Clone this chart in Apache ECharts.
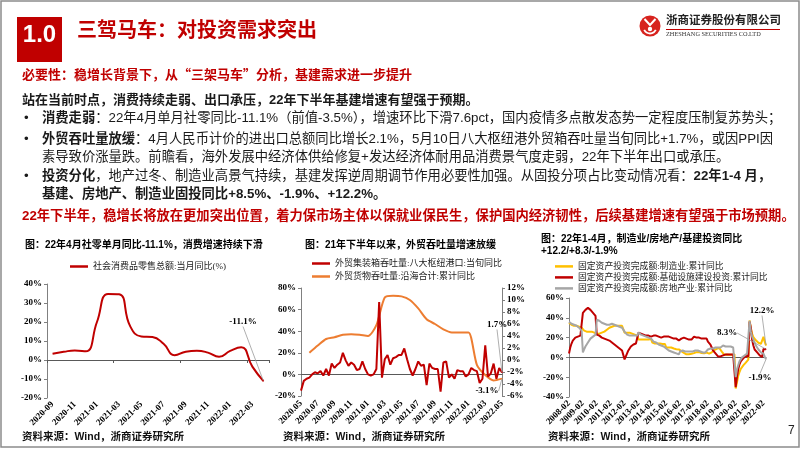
<!DOCTYPE html>
<html><head><meta charset="utf-8">
<script src="https://cdn.jsdelivr.net/npm/echarts@6/dist/echarts.min.js"></script>
<style>html,body{margin:0;padding:0;background:#fff}#c{width:802px;height:451px}</style>
</head><body><div id="c"></div>
<script>
// ---------- Chart 1: retail sales ----------
const retailMonths = ['2020-09','2020-10','2020-11','2020-12','2021-01','2021-02','2021-03','2021-04','2021-05','2021-06',
  '2021-07','2021-08','2021-09','2021-10','2021-11','2021-12','2022-01','2022-02','2022-03','2022-04'];
const retailYoY = [3.3, 4.3, 5.0, 4.6, 20, 34.8, 34.6, 17.7, 12.4, 12.1, 8.5, 2.5, 4.4, 4.9, 3.9, 1.7, 4.8, 6.7, -3.5, -11.1];
const retailTicks = {min: -20, max: 40, step: 10};

// ---------- Chart 2: port throughput ----------
const portMonths = ['2020.05','2020.06','2020.07','2020.08','2020.09','2020.10','2020.11','2020.12',
  '2021.01','2021.02','2021.03','2021.04','2021.05','2021.06','2021.07','2021.08','2021.09','2021.10','2021.11','2021.12',
  '2022.01','2022.02','2022.03','2022.04','2022.05'];
const portDays = ['10','20','30'];
const containerYoY = [-15,-6,-4,-3,0,2,1,3,-1,5, -1,10,6,9,11,20,13,8,11,9, 4,5,12,5,0,-1,0,5,67,-3,
  14,18,9,15,16,18,18,24,14,5, -1,5,12,8,9,-10,10,6,5,5, -16,11,12,-3,0,-4,4,3,3,-2,
  0,6,4,3,-8,-4,27,-2,1,10, -4,6,1.7];
const cargoMonths = ['2020.06','2020.07','2020.08','2020.09','2020.10','2020.11','2020.12',
  '2021.01','2021.02','2021.03','2021.04','2021.05','2021.06','2021.07','2021.08','2021.09','2021.10','2021.11','2021.12',
  '2022.01','2022.02','2022.03','2022.04','2022.05'];
const cargoYoY = [1.2, 2.4, 3.5, 3.8, 4.2, 4.3, 4.2, 4.0, 5.8, 10.4, 10.7, 10.6, 10.0, 8.6, 6.8, 6.0, 5.1, 4.6, 4.6, 4.6, -0.8, -2.5, -3.4, -3.1];
const portLeftTicks = {min: -20, max: 80, step: 20};
const portRightTicks = {min: -6, max: 12, step: 2};

// ---------- Chart 3: fixed asset investment ----------
const faiYears = [2008,2009,2010,2011,2012,2013,2014,2015,2016,2017,2018,2019,2020,2021];
const faiMonthsPerYear = ['02','03','04','05','06','07','08','09','10','11','12'];
const faiLastYearMonths = ['2022-02','2022-03','2022-04'];
const mfgYoY = [
  35,33,33,33,32,33,32,32,31,31,30,
  28,27,26,26,27,26,26,26,26,25,25,
  24,24,24,25,25,26,26,27,28,29,30,
  31,31,32,32,32,32,32,32,32,32,31,
  25,26,25,25,25,24,24,23,23,22,22,
  18,18,18,18,18,18,18,18,18,18,18.5,
  15,15,14,14,14,14,14,14,13.5,13.5,13.5,
  10,10,10,10,10,9,9,8.5,8.3,8.3,8.1,
  7.5,6.4,6,4.6,3.3,3.1,2.8,3.1,3.1,3.6,4.2,
  4.3,5.8,5.3,5.1,5.5,4.8,4.5,4.2,4.1,4.1,4.8,
  4.3,3.8,4.8,5.2,6.8,7.3,7.5,8.7,9.1,9.5,9.5,
  5.9,4.6,2.5,2.7,3.0,3.3,2.6,2.5,2.6,2.5,3.1,
  -31.5,-25.2,-18.8,-14.8,-11.7,-10.2,-8.1,-6.5,-5.3,-3.5,-2.2,
  37.3,29.8,23.8,20.4,19.2,17.3,15.7,14.8,14.2,13.7,13.5,
  20.9,15.6,12.2];
const infraYoY = [
  4,10,14,17,19,20,20,21,21,22,22,
  45,47,48,49,50,49,48,46,45,43,42,
  23,22,22,21,20,20,19,19,18,17,17,
  16,15,14,13,12,11,10,9,8,7,6,
  -2,1,4,7,9,11,12,13,13,14,14,
  25,24,24,24,23,23,22,21,22,22,21,
  23,22,22,22,21,21,20,20,20,21,21,
  21,22,21,21,20,20,19,19,19,18,17,
  18,19,19,20,20,19,18,18,19,18,17,
  21,19,20,20,20,20,19,19,19,19,19,
  16,14,13,10,7,5,4,2,1,1,1,
  2,2,3,3,3,3,3,3,3,3,3,
  -30,-20,-12,-7,-4,-2,-1,0.5,1.5,2,1,
  36,30,18,12,8,7,5,3,2,1,0.4,
  8.6,10,8.3];
const estateYoY = [
  36,35,34,34,33,33,32,31,30,29,27,
  5,8,11,13,15,17,19,20,21,22,23,
  38,37,37,36,35,35,34,34,33,33,33,
  34,34,33,33,33,32,32,31,31,30,29,
  26,24,23,22,22,22,22,22,22,22,22,
  25,24,23,22,22,21,21,20,20,20,19,
  17,16,15,15,14,13,13,12,12,11,11,
  9,8,7,6,6,5,5,4,4,3,3,
  6,6,7,7,6,6,6,6,6,6,6,
  7,7,7,7,7,6,6,5,5,5,4,
  8,9,9,9,9,10,10,10,10,10,10,
  11,12,12,11,11,11,11,11,10,10,10,
  -20,-12,-8,-4,-2,0,1,2,3,4,5,
  37,26,21,18,15,12,10,8,6,5,4,
  3.7,0.7,-1.9];
const faiTicks = {min: -40, max: 60, step: 20};

// ---------- build categories ----------
const portCats = [];
portMonths.forEach((m, i) => {
  const days = i === portMonths.length - 1 ? ['10'] : portDays;
  days.forEach(d => portCats.push(m + '.' + d));
});
const cargoSeries = portCats.map(() => null);
cargoMonths.forEach((m, i) => { const k = portCats.indexOf(m + '.10'); if (k >= 0) cargoSeries[k] = cargoYoY[i]; });
const faiCats = [];
faiYears.forEach(y => faiMonthsPerYear.forEach(m => faiCats.push(y + '-' + m)));
faiLastYearMonths.forEach(m => faiCats.push(m));

// ---------- styles ----------
const SANS = "'Liberation Sans','Noto Sans CJK SC',sans-serif";
const CJK = "'Noto Sans CJK SC',sans-serif";
const SERIF = "'Liberation Serif','Noto Sans CJK SC',serif";
const LEG = "'Liberation Serif','Noto Sans CJK SC',serif";
const RED = '#C00000', ORANGE = '#ED7D31', YELLOW = '#FFC000', GRAY = '#A6A6A6';
const axLbl = {fontFamily: SERIF, fontWeight: 'bold', fontSize: 9, color: '#000'};
const axLine = {show: true, lineStyle: {color: '#808080', width: 1}};
const zeroLine = {color: '#595959', width: 1};

function lastLabel(arr, text) {
  return arr.map((v, i) => i === arr.length - 1
    ? {value: v, symbol: 'circle', symbolSize: 1, label: {show: true, formatter: text}}
    : v);
}
const dataLabel = {show: false, fontFamily: SERIF, fontWeight: 'bold', fontSize: 9, color: '#000'};
const guide = {show: true, length2: 0, lineStyle: {color: '#9a9a9a', width: 0.8}};

function T(x, y, text, o) {
  return {type: 'text', x: x, y: y, silent: true,
    style: Object.assign({text: text, fontFamily: SANS, fontSize: 13.3, fill: '#1a1a1a', verticalAlign: 'middle', align: 'left'}, o || {})};
}
const richB = {b: {fontFamily: SANS, fontSize: 13.3, fontWeight: 'bold', fill: '#1a1a1a'}};

const graphics = [
  {type: 'rect', shape: {x: 1, y: 1, width: 798, height: 446}, style: {fill: null, stroke: '#8c8c8c', lineWidth: 1.5}, silent: true},
  {type: 'rect', shape: {x: 17, y: 17, width: 45, height: 45}, style: {fill: RED}, silent: true},
  T(39.5, 35, '1.0', {fill: '#fff', fontSize: 24, fontWeight: 'bold', align: 'center'}),
  T(77, 31, '三驾马车：对投资需求突出', {fill: RED, fontSize: 20, fontWeight: 'bold'}),
  // logo
  {type: 'circle', shape: {cx: 650, cy: 26, r: 10.5}, style: {fill: '#D7231E'}, silent: true},
  {type: 'polyline', shape: {points: [[644.5, 19], [650, 25], [655.5, 19]]}, style: {stroke: '#fff', lineWidth: 2, fill: null}, silent: true},
  {type: 'arc', shape: {cx: 650, cy: 27, r: 6.5, startAngle: 0.15 * Math.PI, endAngle: 0.85 * Math.PI}, style: {stroke: '#fff', lineWidth: 1.8, fill: null}, silent: true},
  {type: 'circle', shape: {cx: 650, cy: 29, r: 2.2}, style: {fill: '#fff'}, silent: true},
  T(666, 21, '浙商证券股份有限公司', {fontSize: 11.5, fontWeight: 'bold', fill: '#222'}),
  {type: 'line', shape: {x1: 666, y1: 29.5, x2: 780, y2: 29.5}, style: {stroke: RED, lineWidth: 1}, silent: true},
  T(666, 34.5, 'ZHESHANG SECURITIES CO.LTD', {fontFamily: SERIF, fontSize: 6.3, fill: '#333'}),
  // text block
  T(22, 74, '必要性：稳增长背景下，从“三架马车”分析，基建需求进一步提升', {fontFamily: CJK, fontSize: 13, fill: RED, fontWeight: 'bold'}),
  T(22, 100, '站在当前时点，消费持续走弱、出口承压，22年下半年基建增速有望强于预期。', {fontSize: 13, fontWeight: 'bold'}),
  T(24, 118, '•', {}), T(24, 139, '•', {}), T(24, 176, '•', {}),
  T(42, 118, '{b|消费走弱}：22年4月单月社零同比-11.1%（前值-3.5%），增速环比下滑7.6pct，国内疫情多点散发态势一定程度压制复苏势头；', {rich: richB}),
  T(42, 139, '{b|外贸吞吐量放缓}：4月人民币计价的进出口总额同比增长2.1%，5月10日八大枢纽港外贸箱吞吐量当旬同比+1.7%，或因PPI因', {rich: richB}),
  T(42, 157, '素导致价涨量跌。前瞻看，海外发展中经济体供给修复+发达经济体耐用品消费景气度走弱，22年下半年出口或承压。', {}),
  T(42, 176, '{b|投资分化}，地产过冬、制造业高景气持续，基建发挥逆周期调节作用必要性加强。从固投分项占比变动情况看：{b|22年1-4 月，}', {rich: richB}),
  T(42, 194, '基建、房地产、制造业固投同比+8.5%、-1.9%、+12.2%。', {fontWeight: 'bold'}),
  T(22, 216, '22年下半年，稳增长将放在更加突出位置，着力保市场主体以保就业保民生，保护国内经济韧性，后续基建增速有望强于市场预期。', {fill: RED, fontWeight: 'bold'}),
  // chart titles
  T(25, 245, '图：22年4月社零单月同比-11.1%，消费增速持续下滑', {fontSize: 10, fontWeight: 'bold', fill: '#000'}),
  T(305, 245, '图：21年下半年以来，外贸吞吐量增速放缓', {fontSize: 10, fontWeight: 'bold', fill: '#000'}),
  T(541, 239, '图：22年1-4月，制造业/房地产/基建投资同比', {fontSize: 10, fontWeight: 'bold', fill: '#000'}),
  T(541, 251, '+12.2/+8.3/-1.9%', {fontSize: 10, fontWeight: 'bold', fill: '#000'}),
  // sources
  T(22, 437, '资料来源：Wind，浙商证券研究所', {fontSize: 10.5, fontWeight: 'bold', fill: '#111'}),
  T(283, 437, '资料来源：Wind，浙商证券研究所', {fontSize: 10.5, fontWeight: 'bold', fill: '#111'}),
  T(548, 437, '资料来源：Wind，浙商证券研究所', {fontSize: 10.5, fontWeight: 'bold', fill: '#111'}),
  T(788, 431, '7', {fontSize: 12, fill: '#222'})
];

const legendBase = {icon: 'rect', itemWidth: 18, itemHeight: 2.5, padding: 0, selectedMode: false,
  textStyle: {fontFamily: LEG, fontSize: 9, color: '#1a1a1a'}};

const option = {
  animation: false,
  backgroundColor: '#fff',
  graphic: graphics,
  legend: [
    Object.assign({}, legendBase, {data: ['社会消费品零售总额:当月同比(%)'], left: 70, top: 262}),
    Object.assign({}, legendBase, {orient: 'vertical', itemGap: 4, data: ['外贸集装箱吞吐量:八大枢纽港口:当旬同比', '外贸货物吞吐量:沿海合计:累计同比'], left: 312, top: 259}),
    Object.assign({}, legendBase, {orient: 'vertical', itemGap: 2.2, textStyle: {fontFamily: LEG, fontSize: 8.8, color: '#1a1a1a'},
      data: ['固定资产投资完成额:制造业:累计同比', '固定资产投资完成额:基础设施建设投资:累计同比', '固定资产投资完成额:房地产业:累计同比'], left: 555, top: 262})
  ],
  grid: [
    {left: 47, top: 284, width: 222, height: 114},
    {left: 301, top: 288, width: 201, height: 108},
    {left: 569, top: 298, width: 197, height: 99}
  ],
  xAxis: [
    {gridIndex: 0, type: 'category', data: retailMonths, position: 'bottom', boundaryGap: true,
      axisLine: {show: false, onZero: false}, axisTick: {show: false},
      axisLabel: Object.assign({rotate: 45, interval: 1, margin: 5}, axLbl)},
    {gridIndex: 0, type: 'category', data: retailMonths, position: 'bottom', boundaryGap: true,
      axisLine: {show: true, onZero: true, onZeroAxisIndex: 0, lineStyle: zeroLine},
      axisTick: {show: true, length: 3, lineStyle: zeroLine}, axisLabel: {show: false}},
    {gridIndex: 1, type: 'category', data: portCats, position: 'bottom', boundaryGap: false,
      axisLine: {show: false, onZero: false}, axisTick: {show: false},
      axisLabel: Object.assign({rotate: 45, margin: 6, interval: (i) => i % 6 === 0, formatter: (v) => v.slice(0, 7)}, axLbl)},
    {gridIndex: 1, type: 'category', data: portCats, position: 'bottom', boundaryGap: false,
      axisLine: {show: true, onZero: true, onZeroAxisIndex: 1, lineStyle: zeroLine},
      axisTick: {show: false}, axisLabel: {show: false}},
    {gridIndex: 2, type: 'category', data: faiCats, position: 'bottom', boundaryGap: false,
      axisLine: {show: false, onZero: false}, axisTick: {show: false},
      axisLabel: Object.assign({rotate: 45, margin: 5, interval: (i) => i % 11 === 0}, axLbl)},
    {gridIndex: 2, type: 'category', data: faiCats, position: 'bottom', boundaryGap: false,
      axisLine: {show: true, onZero: true, onZeroAxisIndex: 3, lineStyle: zeroLine},
      axisTick: {show: false}, axisLabel: {show: false}}
  ],
  yAxis: [
    {gridIndex: 0, type: 'value', min: retailTicks.min, max: retailTicks.max, interval: retailTicks.step,
      axisLine: axLine, axisTick: {show: true, length: 3, lineStyle: {color: '#808080'}}, splitLine: {show: false},
      axisLabel: Object.assign({formatter: '{value}%', margin: 5}, axLbl)},
    {gridIndex: 1, type: 'value', position: 'left', min: portLeftTicks.min, max: portLeftTicks.max, interval: portLeftTicks.step,
      axisLine: axLine, axisTick: {show: true, length: 3, lineStyle: {color: '#808080'}}, splitLine: {show: false},
      axisLabel: Object.assign({formatter: '{value}%', margin: 5}, axLbl)},
    {gridIndex: 1, type: 'value', position: 'right', min: portRightTicks.min, max: portRightTicks.max, interval: portRightTicks.step,
      axisLine: axLine, axisTick: {show: true, length: 3, lineStyle: {color: '#808080'}}, splitLine: {show: false},
      axisLabel: Object.assign({formatter: '{value}%', margin: 5}, axLbl)},
    {gridIndex: 2, type: 'value', min: faiTicks.min, max: faiTicks.max, interval: faiTicks.step,
      axisLine: axLine, axisTick: {show: true, length: 3, lineStyle: {color: '#808080'}}, splitLine: {show: false},
      axisLabel: Object.assign({formatter: '{value}%', margin: 5}, axLbl)}
  ],
  series: [
    {name: '社会消费品零售总额:当月同比(%)', type: 'line', xAxisIndex: 0, yAxisIndex: 0, smooth: true, symbol: 'none', showAllSymbol: true,
      data: lastLabel(retailYoY, '-11.1%'), lineStyle: {color: RED, width: 2}, itemStyle: {color: RED},
      label: dataLabel, labelLine: guide, labelLayout: {x: 243, y: 322, align: 'center', verticalAlign: 'middle'}},
    {name: '外贸集装箱吞吐量:八大枢纽港口:当旬同比', type: 'line', xAxisIndex: 2, yAxisIndex: 1, symbol: 'none', showAllSymbol: true,
      data: lastLabel(containerYoY, '1.7%'), lineStyle: {color: RED, width: 2}, itemStyle: {color: RED}, z: 3,
      label: dataLabel, labelLine: guide, labelLayout: {x: 497, y: 325, align: 'center', verticalAlign: 'middle'}},
    {name: '外贸货物吞吐量:沿海合计:累计同比', type: 'line', xAxisIndex: 2, yAxisIndex: 2, symbol: 'none', showAllSymbol: true, connectNulls: true, smooth: 0.25,
      data: lastLabel(cargoSeries, '-3.1%'), lineStyle: {color: ORANGE, width: 2}, itemStyle: {color: ORANGE}, z: 2,
      label: dataLabel, labelLine: guide, labelLayout: {x: 487, y: 391, align: 'center', verticalAlign: 'middle'}},
    {name: '固定资产投资完成额:制造业:累计同比', type: 'line', xAxisIndex: 4, yAxisIndex: 3, symbol: 'none', showAllSymbol: true,
      data: lastLabel(mfgYoY, '12.2%'), lineStyle: {color: YELLOW, width: 2}, itemStyle: {color: YELLOW},
      label: dataLabel, labelLine: guide, labelLayout: {x: 762, y: 311, align: 'center', verticalAlign: 'middle'}},
    {name: '固定资产投资完成额:基础设施建设投资:累计同比', type: 'line', xAxisIndex: 4, yAxisIndex: 3, symbol: 'none', showAllSymbol: true,
      data: lastLabel(infraYoY, '8.3%'), lineStyle: {color: RED, width: 2}, itemStyle: {color: RED},
      label: dataLabel, labelLine: guide, labelLayout: {x: 727, y: 333, align: 'center', verticalAlign: 'middle'}},
    {name: '固定资产投资完成额:房地产业:累计同比', type: 'line', xAxisIndex: 4, yAxisIndex: 3, symbol: 'none', showAllSymbol: true,
      data: lastLabel(estateYoY, '-1.9%'), lineStyle: {color: GRAY, width: 2}, itemStyle: {color: GRAY},
      label: dataLabel, labelLine: guide, labelLayout: {x: 760, y: 378, align: 'center', verticalAlign: 'middle'}}
  ]
};
const chart = echarts.init(document.getElementById('c'), null, {renderer: 'canvas'});
chart.setOption(option);
</script>
</body></html>
